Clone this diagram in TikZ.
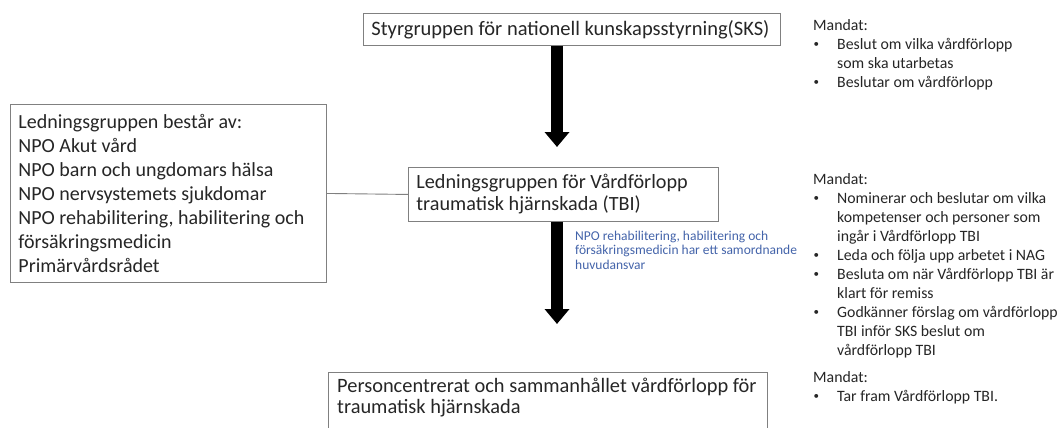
\documentclass[tikz,border=0pt]{standalone}
\usepackage{fontspec}
\setmainfont{Carlito}
\usetikzlibrary{arrows.meta}
\definecolor{boxgray}{RGB}{128,128,128}
\definecolor{txt}{RGB}{38,38,38}
\definecolor{bluetxt}{RGB}{68,100,170}
\newcommand\bul{\makebox[24pt][l]{\hspace*{0.5pt}\raisebox{0.12em}{\fontsize{11}{11}\selectfont\textbullet}}}
\newcommand\ind{\hspace*{24pt}}
\newcommand\nsp{\spaceskip=0pt\xspaceskip=0pt\relax}
\begin{document}
\begin{tikzpicture}[x=1pt,y=-1pt,
  box/.style={draw=boxgray, line width=0.9pt, anchor=north west, inner xsep=8pt, inner ysep=0pt, align=left, text=txt},
  plaintext/.style={anchor=north west, inner sep=0pt, align=left, text=txt},
  mandat/.style={anchor=north west, inner sep=0pt, align=left, text=txt, font=\fontsize{15.8}{19}\selectfont},
  bigarrow/.style={line width=12pt, -{Triangle[width=24pt 0 0,length=15pt 0 0]}},
  link/.style={draw=boxgray, line width=0.9pt}]
\useasboundingbox (0,0) rectangle (1060,428);
\clip (0,0) rectangle (1060,428);
\fill[white] (0,0) rectangle (1060,428);

\node[box, minimum width=417pt, minimum height=32pt, text width=401pt,
  font=\fontsize{20.5}{24}\selectfont] (sks) at (363,13)
  {\nsp Styrgruppen för nationell kunskapsstyrning(SKS)};

\node[box, minimum width=316pt, minimum height=178pt, text width=300pt,
  font=\fontsize{20}{24}\selectfont] (npo) at (10,104)
  {\nsp Ledningsgruppen består av:\\NPO Akut vård\\NPO barn och ungdomars hälsa\\NPO nervsystemets sjukdomar\\NPO rehabilitering, habilitering och\\försäkringsmedicin\\Primärvårdsrådet};

\node[box, minimum width=310pt, minimum height=54pt, text width=294pt,
  font=\fontsize{20.2}{22}\selectfont] (tbi) at (408,167)
  {\nsp Ledningsgruppen för Vårdförlopp\\traumatisk hjärnskada (TBI)};

\node[box, minimum width=439pt, minimum height=90pt] (pcbox) at (328,372) {};
\node[plaintext, font=\fontsize{20.4}{21}\selectfont] (pc) at ([xshift=9pt,yshift=-6pt]pcbox.north west)
  {\nsp Personcentrerat och sammanhållet vårdförlopp för\\traumatisk hjärnskada};

\draw[link] (npo.east) -- (tbi.west);

\coordinate (a1) at (557,147);
\draw[bigarrow] (sks.south -| a1) -- (a1);
\coordinate (a2) at (557,324);
\draw[bigarrow] (tbi.south -| a2) -- (a2);

\node[plaintext, text=bluetxt, font=\fontsize{13.5}{14.5}\selectfont] (note) at (575,230.5)
  {\nsp NPO rehabilitering, habilitering och\\försäkringsmedicin har ett samordnande\\huvudansvar};

\node[mandat] (m1) at (813,19.7) {\nsp Mandat:\\
\bul Beslut om vilka vårdförlopp\\
\ind som ska utarbetas\\
\bul Beslutar om vårdförlopp};

\node[mandat] (m2) at (813,173.7) {\nsp Mandat:\\
\bul Nominerar och beslutar om vilka\\
\ind kompetenser och personer som\\
\ind ingår i Vårdförlopp TBI\\
\bul Leda och följa upp arbetet i NAG\\
\bul Besluta om när Vårdförlopp TBI är\\
\ind klart för remiss\\
\bul Godkänner förslag om vårdförlopp\\
\ind TBI inför SKS beslut om\\
\ind vårdförlopp TBI};

\node[mandat] (m3) at (813,371.2) {\nsp Mandat:\\
\bul Tar fram Vårdförlopp TBI.};
\end{tikzpicture}
\end{document}
